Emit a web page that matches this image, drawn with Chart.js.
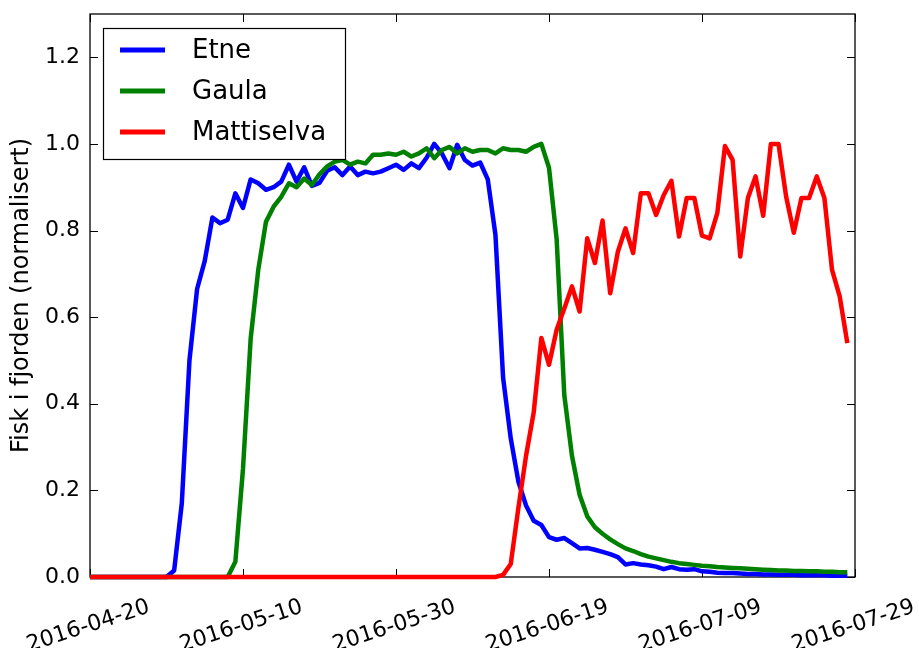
<!DOCTYPE html>
<html>
<head>
<meta charset="utf-8">
<script src="https://cdn.jsdelivr.net/npm/chart.js@4/dist/chart.umd.min.js"></script>
<style>
html,body{margin:0;padding:0;background:#fff;}
#wrap{width:919px;height:648px;position:relative;}
canvas{display:block;}
</style>
</head>
<body>
<div id="wrap"><canvas id="c" width="919" height="648"></canvas></div>
<script>
// ---- data (daily values, first day 2016-04-20) ----
const startDate = '2016-04-20';
const seriesNames = ['Etne', 'Gaula', 'Mattiselva'];
const seriesColors = ['#0000ff', '#008000', '#ff0000'];
const tickLabels = ['2016-04-20', '2016-05-10', '2016-05-30', '2016-06-19', '2016-07-09', '2016-07-29'];
const yTickValues = [0.0, 0.2, 0.4, 0.6, 0.8, 1.0, 1.2];

const etne = [
  0,0,0,0,0,0,0,0,0,0,0,
  0.015,0.17,0.50,0.665,0.73,0.83,0.817,0.825,0.886,0.852,
  0.918,0.909,0.894,0.90,0.913,0.952,0.913,0.946,0.903,0.910,
  0.938,0.946,0.928,0.948,0.928,0.936,0.932,0.936,0.944,0.952,
  0.940,0.955,0.944,0.968,1.0,0.978,0.944,0.998,0.963,0.950,
  0.957,0.918,0.79,0.46,0.32,0.22,0.165,0.13,0.12,0.092,
  0.086,0.09,0.078,0.066,0.067,0.063,0.058,0.053,0.046,0.029,
  0.032,0.029,0.027,0.024,0.018,0.023,0.018,0.017,0.018,0.013,
  0.012,0.010,0.009,0.009,0.008,0.007,0.007,0.006,0.006,0.005,
  0.005,0.005,0.004,0.004,0.004,0.004,0.003,0.003,0.003
];
const gaula = [
  0,0,0,0,0,0,0,0,0,0,0,0,0,0,0,0,0,0,0,
  0.035,0.25,0.55,0.71,0.82,0.855,0.878,0.909,0.90,0.92,0.905,
  0.93,0.948,0.959,0.963,0.952,0.959,0.955,0.975,0.975,0.978,
  0.975,0.982,0.971,0.978,0.99,0.967,0.986,0.993,0.978,0.99,
  0.982,0.986,0.986,0.978,0.99,0.986,0.986,0.982,0.993,1.0,
  0.945,0.78,0.42,0.28,0.19,0.14,0.115,0.10,0.087,0.076,
  0.066,0.060,0.053,0.047,0.043,0.039,0.035,0.032,0.030,0.028,
  0.026,0.025,0.023,0.022,0.021,0.020,0.019,0.018,0.017,0.016,
  0.015,0.015,0.014,0.014,0.013,0.013,0.012,0.012,0.011,0.011
];
const mattiselva = [
  0,0,0,0,0,0,0,0,0,0,0,0,0,0,0,0,0,0,0,0,
  0,0,0,0,0,0,0,0,0,0,0,0,0,0,0,0,0,0,0,0,
  0,0,0,0,0,0,0,0,0,0,0,0,0,0,
  0.005,0.03,0.16,0.28,0.38,0.552,0.49,0.571,0.62,0.671,
  0.613,0.782,0.725,0.823,0.655,0.751,0.805,0.748,0.886,0.886,
  0.836,0.882,0.915,0.786,0.875,0.875,0.788,0.782,0.84,0.995,
  0.963,0.74,0.875,0.925,0.834,1.0,1.0,0.878,0.795,0.875,
  0.875,0.925,0.875,0.709,0.648,0.54
];
const seriesValues = [etne, gaula, mattiselva];

// day offsets from the start date
const dayMs = 86400000;
const t0 = Date.parse(startDate + 'T00:00:00Z');
const dates = etne.map((_, i) => new Date(t0 + i * dayMs).toISOString().slice(0, 10));
const dayIndex = dates.map(d => (Date.parse(d + 'T00:00:00Z') - t0) / dayMs);

Chart.defaults.font.family = "'DejaVu Sans', 'Liberation Sans', sans-serif";
Chart.defaults.color = '#000';

const framePlugin = {
  id: 'frameTicks',
  beforeDatasetsDraw(chart) {
    const {ctx, chartArea: a, scales: {x, y}} = chart;
    ctx.save();
    ctx.strokeStyle = '#000';
    ctx.lineWidth = 1.3;
    ctx.strokeRect(a.left, a.top, a.right - a.left, a.bottom - a.top);
    const tl = 8;
    ctx.lineWidth = 1;
    ctx.beginPath();
    x.ticks.forEach(t => {
      const px = Math.round(x.getPixelForValue(t.value)) + 0.5;
      ctx.moveTo(px, a.bottom); ctx.lineTo(px, a.bottom - tl);
      ctx.moveTo(px, a.top); ctx.lineTo(px, a.top + tl);
    });
    y.ticks.forEach(t => {
      const py = Math.round(y.getPixelForValue(t.value)) + 0.5;
      ctx.moveTo(a.left, py); ctx.lineTo(a.left + tl, py);
      ctx.moveTo(a.right, py); ctx.lineTo(a.right - tl, py);
    });
    ctx.stroke();
    ctx.restore();
  }
};

const legendPlugin = {
  id: 'boxLegend',
  afterDatasetsDraw(chart) {
    const {ctx, chartArea: a} = chart;
    const x0 = a.left + 13, y0 = a.top + 14, w = 242, h = 131;
    ctx.save();
    ctx.fillStyle = '#fff';
    ctx.fillRect(x0, y0, w, h);
    ctx.strokeStyle = '#000';
    ctx.lineWidth = 1.2;
    ctx.strokeRect(x0 + 0.5, y0 + 0.5, w, h);
    ctx.font = "26px 'DejaVu Sans'";
    ctx.textBaseline = 'middle';
    ctx.textAlign = 'left';
    chart.data.datasets.forEach((ds, i) => {
      const yy = y0 + 22 + i * 41;
      ctx.strokeStyle = ds.borderColor;
      ctx.lineWidth = 5;
      ctx.beginPath();
      ctx.moveTo(x0 + 17, yy); ctx.lineTo(x0 + 62, yy);
      ctx.stroke();
      ctx.fillStyle = '#000';
      ctx.fillText(ds.label, x0 + 89, yy + 1);
    });
    ctx.restore();
  }
};

new Chart(document.getElementById('c'), {
  type: 'line',
  data: {
    datasets: seriesNames.map((name, k) => ({
      label: name,
      data: dayIndex.map((d, i) => ({x: d, y: seriesValues[k][i]})),
      borderColor: seriesColors[k],
      backgroundColor: seriesColors[k],
      borderWidth: 4.5,
      pointRadius: 0,
      tension: 0,
      borderJoinStyle: 'round',
      fill: false,
      clip: false,
      order: 2 - k
    }))
  },
  options: {
    responsive: false,
    animation: false,
    devicePixelRatio: 1,
    layout: {padding: {top: 14, right: 64, bottom: 0, left: 0}},
    plugins: {legend: {display: false}, tooltip: {enabled: false}},
    scales: {
      x: {
        type: 'linear', min: 0, max: 100,
        grid: {display: false, drawTicks: false},
        border: {display: false},
        ticks: {
          stepSize: 20, autoSkip: false, minRotation: 18, maxRotation: 18,
          font: {size: 22}, padding: 17, labelOffset: 59,
          callback: v => tickLabels[Math.round(v / 20)] ?? ''
        },
        afterFit(s) { s.height = 71; s.paddingLeft = 0; s.paddingRight = 0; }
      },
      y: {
        min: 0, max: 1.3,
        grid: {display: false, drawTicks: false},
        border: {display: false},
        afterBuildTicks(s) { s.ticks = yTickValues.map(v => ({value: v})); },
        ticks: {
          font: {size: 22}, padding: 10,
          callback: v => Number(v).toFixed(1)
        },
        title: {display: true, text: 'Fisk i fjorden (normalisert)', font: {size: 24}, padding: {top: 7, bottom: 4}},
        afterFit(s) { s.width = 90; s.paddingTop = 0; s.paddingBottom = 0; }
      }
    }
  },
  plugins: [framePlugin, legendPlugin]
});
</script>
</body>
</html>
